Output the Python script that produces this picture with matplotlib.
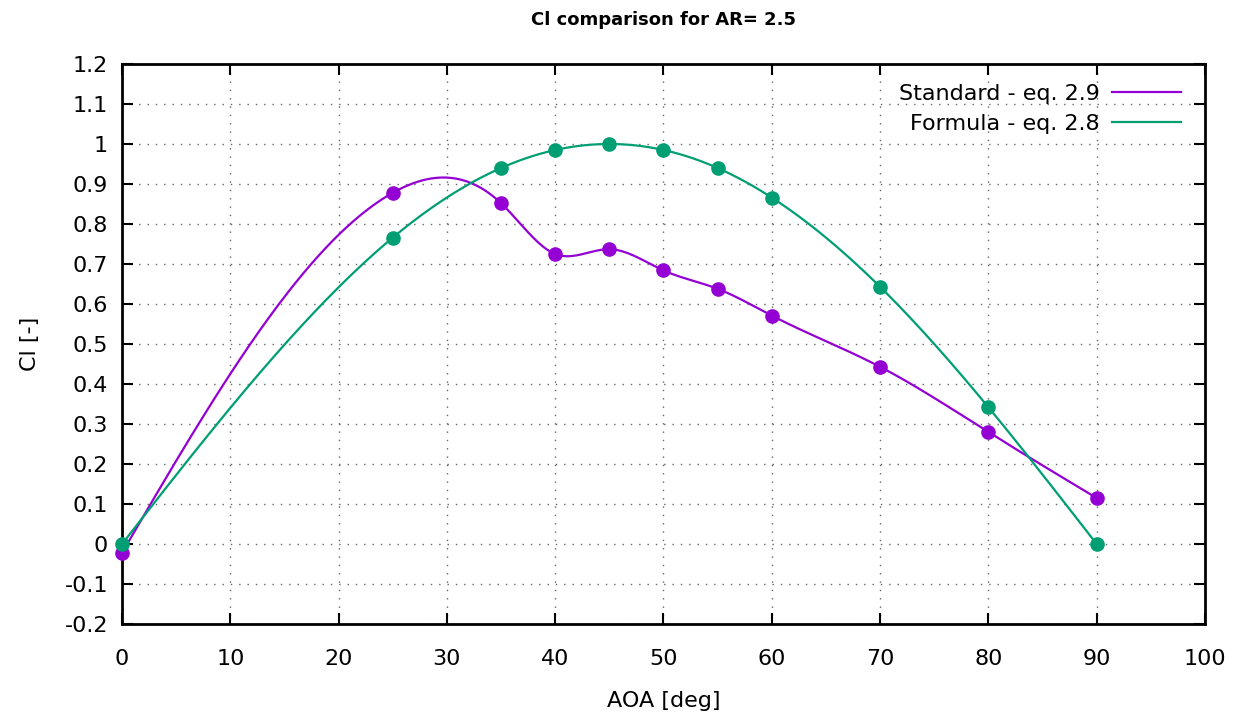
import numpy as np
import matplotlib
matplotlib.use('Agg')
import matplotlib.pyplot as plt
from matplotlib.lines import Line2D

# Data
aoa = [0, 25, 35, 40, 45, 50, 55, 60, 70, 80, 90]
cl_standard = [-0.022, 0.878, 0.852, 0.725, 0.737, 0.684, 0.638, 0.571, 0.443, 0.280, 0.115]
cl_formula = [0.0, 0.766, 0.940, 0.985, 1.0, 0.985, 0.940, 0.866, 0.643, 0.342, 0.0]

col_standard = '#9400d3'
col_formula = '#009e73'


def natural_spline(x, y, n=400):
    # natural cubic spline, like gnuplot "smooth csplines"
    x = np.asarray(x, float)
    y = np.asarray(y, float)
    k = len(x)
    h = np.diff(x)
    A = np.zeros((k, k))
    b = np.zeros(k)
    A[0, 0] = 1
    A[-1, -1] = 1
    for i in range(1, k - 1):
        A[i, i - 1] = h[i - 1]
        A[i, i] = 2 * (h[i - 1] + h[i])
        A[i, i + 1] = h[i]
        b[i] = 6 * ((y[i + 1] - y[i]) / h[i] - (y[i] - y[i - 1]) / h[i - 1])
    M = np.linalg.solve(A, b)
    xs = np.linspace(x[0], x[-1], n)
    idx = np.clip(np.searchsorted(x, xs) - 1, 0, k - 2)
    x0, x1 = x[idx], x[idx + 1]
    hh = x1 - x0
    t0 = x1 - xs
    t1 = xs - x0
    ys = (M[idx] * t0 ** 3 + M[idx + 1] * t1 ** 3) / (6 * hh) \
        + (y[idx] / hh - M[idx] * hh / 6) * t0 \
        + (y[idx + 1] / hh - M[idx + 1] * hh / 6) * t1
    return xs, ys


plt.rcParams['font.family'] = ['DejaVu Sans']

fig = plt.figure(figsize=(12.44, 7.19), dpi=100)
ax = fig.add_axes([0.0981, 0.1321, 0.8705, 0.7789])

xs, ys = natural_spline(aoa, cl_standard)
ax.plot(xs, ys, color=col_standard, lw=1.6, zorder=3)
ax.plot(aoa, cl_standard, 'o', color=col_standard, ms=9.5, zorder=4, clip_on=False)

xs, ys = natural_spline(aoa, cl_formula)
ax.plot(xs, ys, color=col_formula, lw=1.6, zorder=3)
ax.plot(aoa, cl_formula, 'o', color=col_formula, ms=9.5, zorder=4, clip_on=False)

ax.set_xlim(0, 100)
ax.set_ylim(-0.2, 1.2)
yt = np.round(np.arange(-0.2, 1.21, 0.1), 1)
ax.set_xticks(np.arange(0, 101, 10))
ax.set_yticks(yt)
ax.set_yticklabels(['%g' % v for v in yt])
ax.tick_params(direction='in', length=8, width=1.5, top=True, right=True,
               labelsize=16, colors='black')
ax.tick_params(axis='x', pad=18)
ax.tick_params(axis='y', pad=10)
ax.grid(True, linestyle=(0, (1, 5)), color='#666666', linewidth=1)
for s in ax.spines.values():
    s.set_linewidth(2)

ax.set_xlabel('AOA [deg]', fontsize=16, labelpad=16)
ax.set_ylabel('Cl [-]', fontsize=16, labelpad=18)
ax.set_title('Cl comparison for AR= 2.5', fontsize=13, fontweight='bold', pad=28)

handles = [Line2D([], [], color=col_standard, lw=1.6),
           Line2D([], [], color=col_formula, lw=1.6)]
leg = ax.legend(handles, ['Standard - eq. 2.9', 'Formula - eq. 2.8'],
                loc='upper right', frameon=False, markerfirst=False,
                fontsize=16, handlelength=3.1, labelspacing=0.43,
                borderaxespad=0.5, handletextpad=0.55,
                bbox_to_anchor=(0.996, 1.0))

fig.savefig('out.png', dpi=100)
